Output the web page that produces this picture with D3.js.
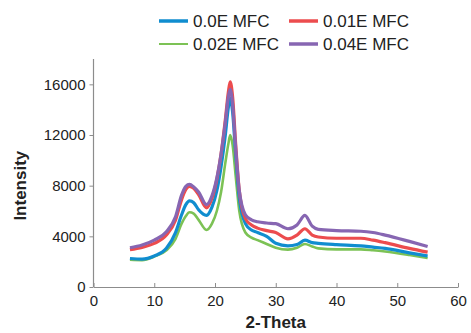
<!DOCTYPE html>
<html>
<head>
<meta charset="utf-8">
<script src="https://cdn.jsdelivr.net/npm/d3@7"></script>
<style>
  body { margin: 0; background: #fff; }
  text { font-family: "Liberation Sans", Arial, sans-serif; }
</style>
</head>
<body>
<div id="chart"></div>
<script>
// 2-theta sample positions shared by all series
const theta = [6, 8, 10, 12, 13.5, 14.5, 15.2, 15.8, 16.5, 17.3, 18.6, 19.5, 20.3, 21, 21.7, 22.2, 22.5, 22.9, 23.4, 24, 25, 26, 27, 28.5, 30, 32, 33.5, 34.8, 36, 37, 40, 44, 46, 48, 52, 55];

const series0 = [2250, 2200, 2450, 3050, 4300, 5700, 6500, 6800, 6650, 6100, 5650, 6300, 7600, 9500, 12000, 14200, 14900, 13800, 10500, 7000, 5000, 4500, 4300, 4000, 3450, 3250, 3350, 3700, 3500, 3450, 3350, 3250, 3150, 3050, 2700, 2450];
const series1 = [2950, 3130, 3440, 4100, 5280, 6900, 7700, 7950, 7800, 7300, 6250, 7000, 8500, 10500, 13200, 15400, 16200, 15000, 11300, 7600, 5400, 4900, 4650, 4450, 4300, 3800, 4100, 4600, 4100, 3950, 3850, 3850, 3700, 3500, 3050, 2750];
const series2 = [2150, 2120, 2400, 2900, 3800, 5000, 5600, 5900, 5800, 5300, 4500, 5000, 6000, 7500, 9800, 11300, 12000, 11200, 8800, 6000, 4300, 3900, 3700, 3400, 3100, 2950, 3100, 3400, 3200, 3050, 2970, 2970, 2900, 2800, 2520, 2280];
const series3 = [3100, 3310, 3700, 4360, 5540, 7250, 7950, 8100, 7900, 7500, 6500, 7200, 8600, 10500, 13000, 15000, 15600, 14400, 11000, 7600, 5700, 5300, 5150, 5050, 5000, 4600, 4900, 5650, 4800, 4550, 4450, 4400, 4300, 4100, 3600, 3200];

const seriesNames = ["0.0E MFC", "0.01E MFC", "0.02E MFC", "0.04E MFC"];
const seriesColors = ["#108dcf", "#ec4c4e", "#7cc255", "#8766b2"];
const seriesValues = [series0, series1, series2, series3];

const xTicks = [0, 10, 20, 30, 40, 50, 60];
const yTicks = [0, 4000, 8000, 12000, 16000];

const width = 471, height = 333;
const margin = { left: 93.5, right: 13, top: 59, bottom: 46 };

const svg = d3.select("#chart").append("svg")
  .attr("width", width)
  .attr("height", height);

const x = d3.scaleLinear().domain([0, 60]).range([margin.left, width - margin.right]);
const y = d3.scaleLinear().domain([0, 18000]).range([height - margin.bottom, margin.top]);

// axes
const xAxis = svg.append("g")
  .attr("transform", "translate(0," + y(0) + ")")
  .call(d3.axisBottom(x).tickValues(xTicks).tickFormat(d3.format("d")).tickSizeInner(-4).tickSizeOuter(0).tickPadding(8));
const yAxis = svg.append("g")
  .attr("transform", "translate(" + x(0) + ",0)")
  .call(d3.axisLeft(y).tickValues(yTicks).tickFormat(d3.format("d")).tickSizeInner(4).tickSizeOuter(0).tickPadding(4));

[xAxis, yAxis].forEach(ax => {
  ax.select(".domain").attr("stroke", "#8c8c8c").attr("stroke-width", 1.2);
  ax.selectAll(".tick line").attr("stroke", "#8c8c8c");
  ax.selectAll(".tick text").attr("fill", "#222").style("font-size", "15px");
});
// top of y axis runs to 18000
yAxis.select(".domain").attr("d", "M0," + y(18000) + "V" + y(0));

// curves
const line = d3.line()
  .x((d, i) => x(theta[i]))
  .y(d => y(d))
  .curve(d3.curveMonotoneX);

const drawOrder = [2, 0, 1, 3];
drawOrder.forEach(k => {
  svg.append("path")
    .datum(seriesValues[k])
    .attr("fill", "none")
    .attr("stroke", seriesColors[k])
    .attr("stroke-width", k === 2 ? 2.6 : 3.2)
    .attr("stroke-linejoin", "round")
    .attr("d", line);
});

// legend
const legendPos = [[159, 21], [289, 21], [159, 44], [289, 44]];
seriesNames.forEach((name, k) => {
  const g = svg.append("g").attr("transform", "translate(" + legendPos[k][0] + "," + legendPos[k][1] + ")");
  g.append("line")
    .attr("x1", 0).attr("x2", 29)
    .attr("stroke", seriesColors[k])
    .attr("stroke-width", k === 2 ? 2 : 3.5);
  g.append("text")
    .attr("x", 34).attr("y", 6)
    .attr("fill", "#222")
    .style("font-size", "17px")
    .text(name);
});

// axis titles
svg.append("text")
  .attr("x", x(30)).attr("y", 328)
  .attr("text-anchor", "middle")
  .style("font-size", "17px").style("font-weight", "bold")
  .attr("fill", "#222")
  .text("2-Theta");

svg.append("text")
  .attr("transform", "translate(26," + y(8000) + ") rotate(-90)")
  .attr("text-anchor", "middle")
  .style("font-size", "17px").style("font-weight", "bold")
  .attr("fill", "#222")
  .text("Intensity");
</script>
</body>
</html>
